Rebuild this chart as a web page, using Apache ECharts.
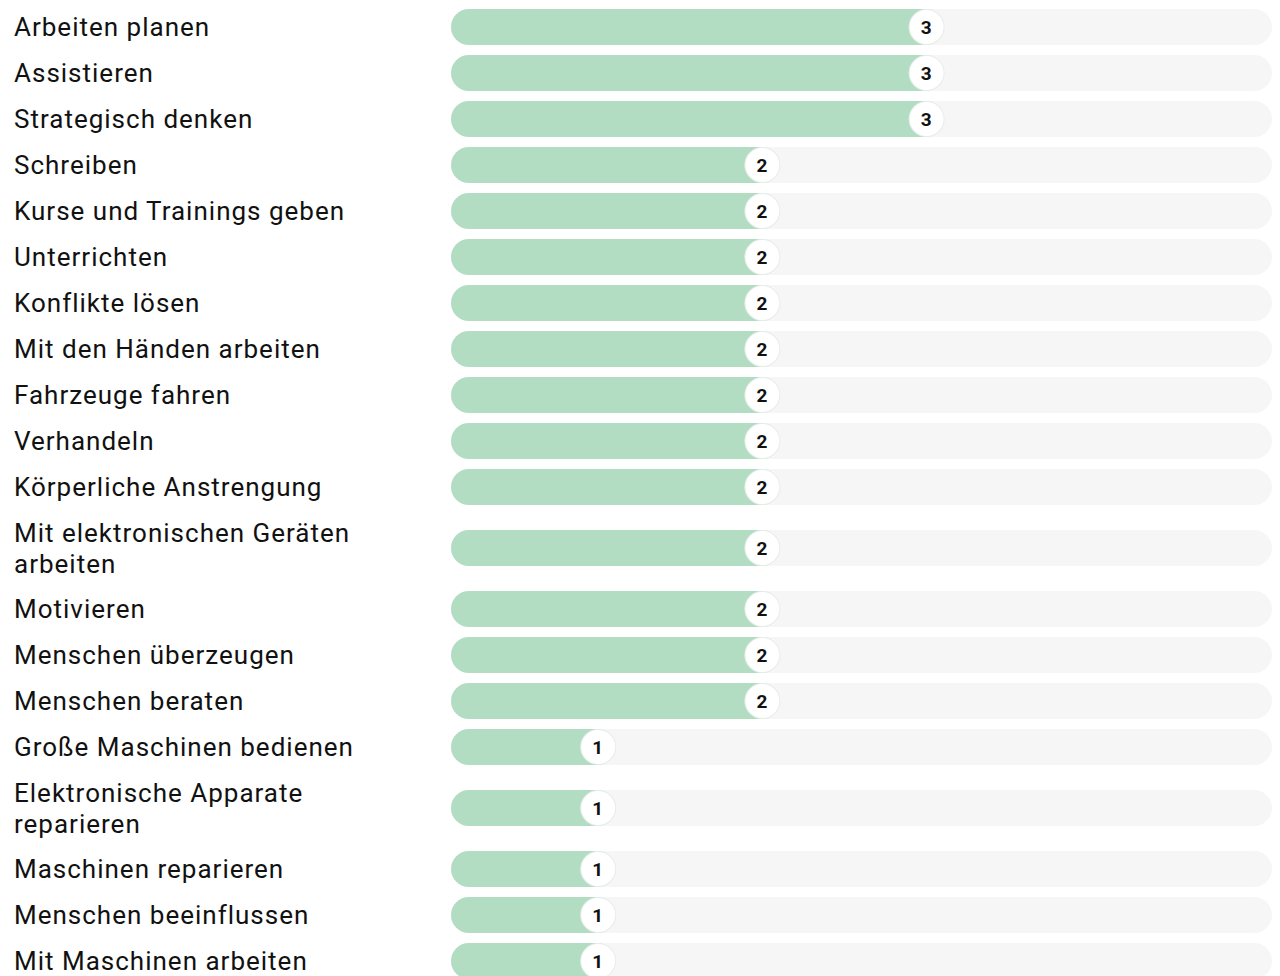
<!DOCTYPE html>
<html>
<head>
<meta charset="utf-8">
<script src="https://cdn.jsdelivr.net/npm/echarts@6/dist/echarts.min.js"></script>
<style>
  html, body { margin: 0; padding: 0; background: #fff; }
  #main { width: 1280px; height: 976px; }
  #main text { letter-spacing: 1px; }
</style>
</head>
<body>
<div id="main"></div>
<script>
var categories = [
    'Arbeiten planen', 'Assistieren', 'Strategisch denken', 'Schreiben',
    'Kurse und Trainings geben', 'Unterrichten', 'Konflikte lösen',
    'Mit den Händen arbeiten', 'Fahrzeuge fahren', 'Verhandeln',
    'Körperliche Anstrengung', 'Mit elektronischen Geräten arbeiten',
    'Motivieren', 'Menschen überzeugen', 'Menschen beraten',
    'Große Maschinen bedienen', 'Elektronische Apparate reparieren',
    'Maschinen reparieren', 'Menschen beeinflussen', 'Mit Maschinen arbeiten'
];
var values = [3, 3, 3, 2, 2, 2, 2, 2, 2, 2, 2, 2, 2, 2, 2, 1, 1, 1, 1, 1];
var maxValue = 5;

var labelFont = '26px Roboto';
var labelWidth = 360;
var lineH = 30;

// count wrapped lines the same way the axis label will break them
var ctx = document.createElement('canvas').getContext('2d');
ctx.font = labelFont;
function countLines(text) {
    var words = text.split(' '), lines = 1, cur = '';
    words.forEach(function (w) {
        var t = cur ? cur + ' ' + w : w;
        if (ctx.measureText(t).width > labelWidth && cur) {
            lines++;
            cur = w;
        } else {
            cur = t;
        }
    });
    return lines;
}

var myChart = echarts.init(document.getElementById('main'), null, { renderer: 'svg' });
var grid = [], xAxis = [], yAxis = [], series = [];
var rowTop = 4;
categories.forEach(function (name, i) {
    var rowH = 46 + lineH * (countLines(name) - 1);
    grid.push({
        left: 451, right: 8, top: rowTop + (rowH - 36) / 2, height: 36,
        outerBoundsMode: 'none'
    });
    rowTop += rowH;
    xAxis.push({ gridIndex: i, type: 'value', min: 0, max: maxValue, show: false });
    yAxis.push({
        gridIndex: i,
        type: 'category',
        data: [name],
        axisLine: { show: false },
        axisTick: { show: false },
        axisLabel: {
            align: 'left',
            margin: 437,
            width: labelWidth,
            overflow: 'break',
            lineHeight: 31,
            padding: [0, 0, 6, 0],
            fontFamily: 'Roboto',
            fontSize: 26,
            color: '#111'
        }
    });
    series.push({
        type: 'bar',
        xAxisIndex: i,
        yAxisIndex: i,
        barWidth: 36,
        data: [values[i]],
        itemStyle: { color: '#b2ddc3', borderRadius: 18 },
        showBackground: true,
        backgroundStyle: { color: '#f6f6f6', borderRadius: 18 },
        label: {
            show: true,
            position: 'insideRight',
            distance: 0,
            formatter: '{v|{c}}',
            padding: 0,
            backgroundColor: '#fff',
            borderColor: '#e6eee9',
            borderWidth: 1,
            borderRadius: 18,
            rich: {
                v: {
                    width: 34,
                    height: 34,
                    lineHeight: 34,
                    align: 'center',
                    fontFamily: 'Roboto',
                    fontWeight: 'bold',
                    fontSize: 19,
                    color: '#111'
                }
            }
        },
        silent: true,
        animation: false
    });
});

option = {
    animation: false,
    grid: grid,
    xAxis: xAxis,
    yAxis: yAxis,
    series: series
};
myChart.setOption(option);

window.onresize = function () {
    myChart.resize();
};
</script>
</body>
</html>
